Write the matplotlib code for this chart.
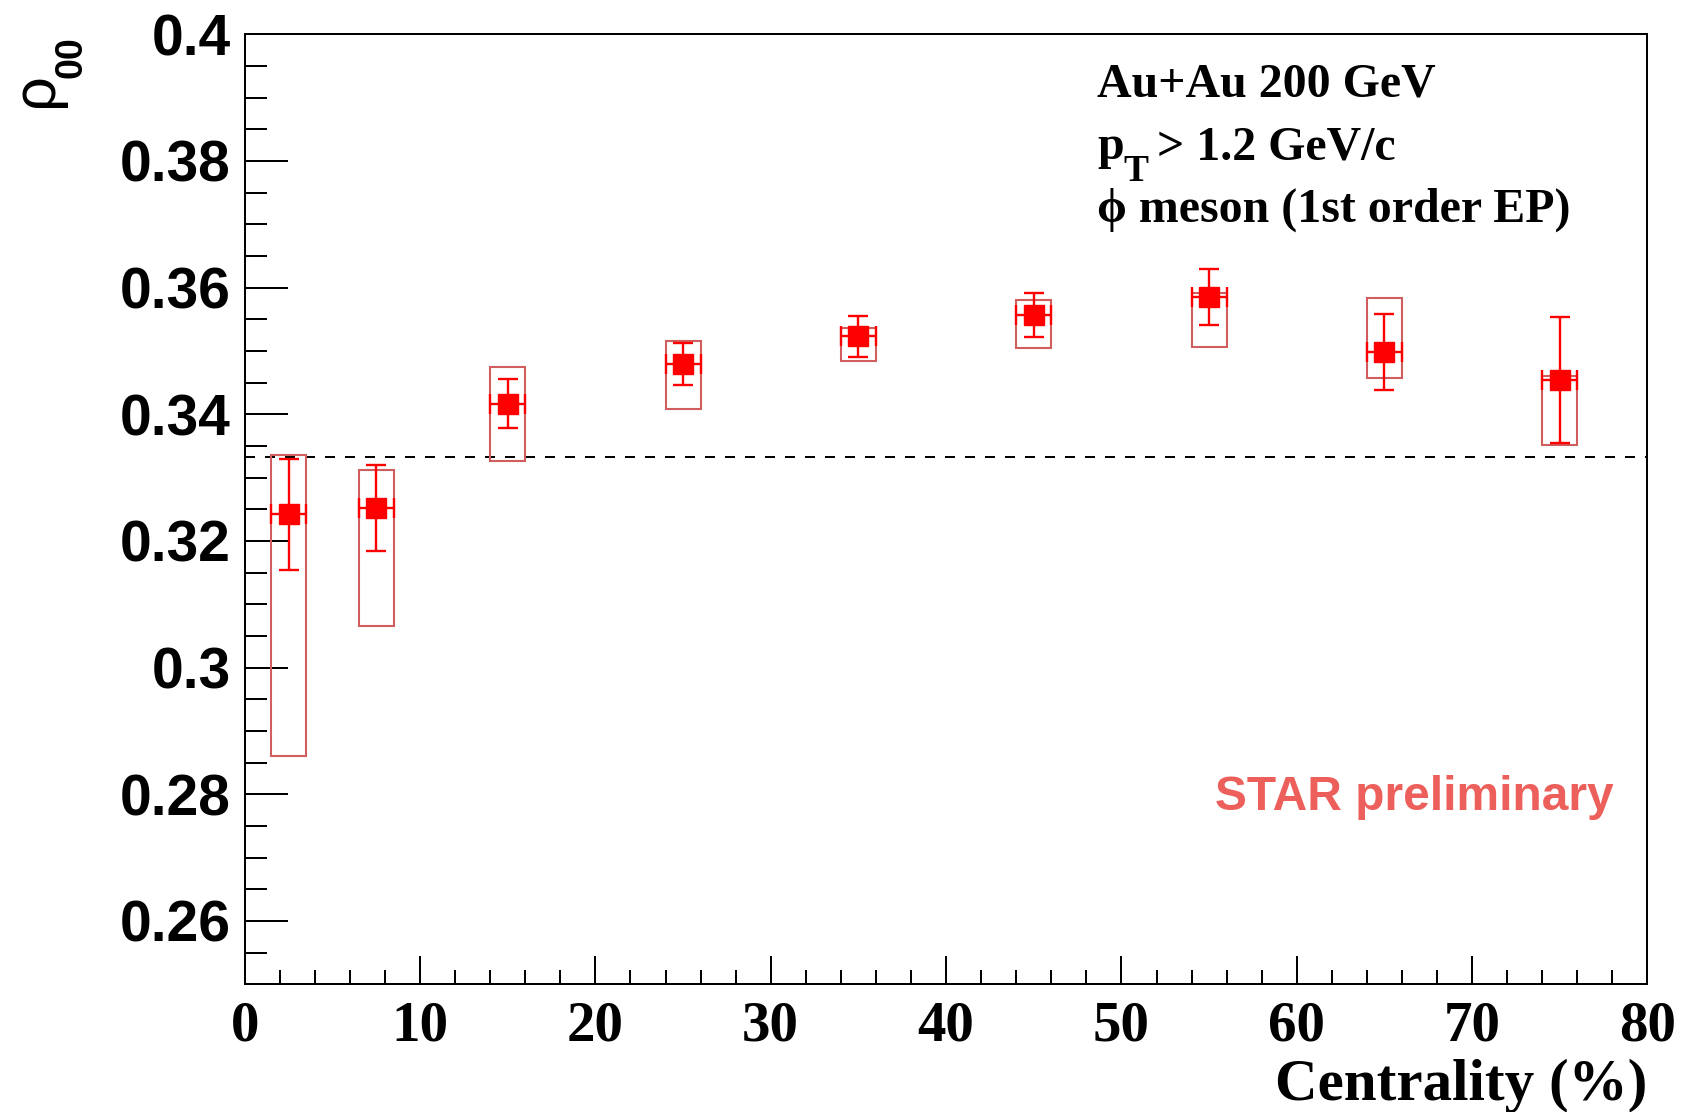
import matplotlib
matplotlib.use("Agg")
import matplotlib.pyplot as plt
from matplotlib.patches import Rectangle
from matplotlib.ticker import MultipleLocator, FixedLocator

# ---- data ----
centrality = [2.5, 7.5, 15, 25, 35, 45, 55, 65, 75]
rho00 = [0.3242, 0.3252, 0.3417, 0.3480, 0.3523, 0.3557, 0.3585, 0.3499, 0.3454]
stat_err = [0.0088, 0.0068, 0.0038, 0.0033, 0.0033, 0.0035, 0.0044, 0.0060, 0.0099]
sys_low = [0.2860, 0.3065, 0.3327, 0.3409, 0.3484, 0.3505, 0.3507, 0.3458, 0.3352]
sys_high = [0.3335, 0.3312, 0.3474, 0.3516, 0.3537, 0.3580, 0.3592, 0.3583, 0.3460]
x_err = 1.0
reference_value = 1.0 / 3.0
x_ticks = [0, 10, 20, 30, 40, 50, 60, 70, 80]
y_ticks = [0.26, 0.28, 0.30, 0.32, 0.34, 0.36, 0.38, 0.40]
y_tick_labels = ["0.26", "0.28", "0.3", "0.32", "0.34", "0.36", "0.38", "0.4"]

W, H = 1683, 1112
fig = plt.figure(figsize=(W / 100, H / 100), dpi=100)
L, R, T, B = 244.7, 1647.5, 34.3, 984.3
ax = fig.add_axes([L / W, 1 - B / H, (R - L) / W, (B - T) / H])

def fx(px):
    return px / W

def fy(py):
    return 1 - py / H

# systematic boxes
for xc, lo, hi in zip(centrality, sys_low, sys_high):
    ax.add_patch(Rectangle((xc - x_err, lo), 2 * x_err, hi - lo, fill=False,
                           edgecolor='#d05e5e', linewidth=1.5, zorder=2))

# reference line
ax.axhline(reference_value, color='black', lw=1.44, dashes=(5, 5), zorder=1)

# data points with stat errors
ax.errorbar(centrality, rho00, yerr=stat_err, xerr=x_err, fmt='s', color='#ff0000',
            markersize=14, elinewidth=1.7, capsize=7, capthick=1.7, zorder=3)

ax.set_xlim(0, 80)
ax.set_ylim(0.25, 0.40)

ax.xaxis.set_major_locator(FixedLocator(x_ticks))
ax.xaxis.set_minor_locator(MultipleLocator(2))
ax.yaxis.set_major_locator(FixedLocator(y_ticks))
ax.yaxis.set_minor_locator(MultipleLocator(0.005))
ax.set_yticklabels(y_tick_labels)

ax.tick_params(axis='y', which='major', direction='in', length=31, width=1.44,
               pad=10, left=True, right=False)
ax.tick_params(axis='y', which='minor', direction='in', length=15.8, width=1.44,
               left=True, right=False)
ax.tick_params(axis='x', which='major', direction='in', length=20, width=1.44,
               pad=12, bottom=True, top=False)
ax.tick_params(axis='x', which='minor', direction='in', length=10, width=1.44,
               bottom=True, top=False)

for lab in ax.get_yticklabels():
    lab.set_fontfamily('Liberation Sans')
    lab.set_fontweight('bold')
    lab.set_fontsize(41)
for lab in ax.get_xticklabels():
    lab.set_fontfamily('Liberation Serif')
    lab.set_fontweight('bold')
    lab.set_fontsize(41)

for sp in ax.spines.values():
    sp.set_linewidth(1.44)

# x axis title
fig.text(fx(1647.5), fy(1100), "Centrality (%)", ha='right', va='baseline',
         fontfamily='Liberation Serif', fontweight='bold', fontsize=42.5)

# y axis title: rho_00
fig.text(fx(52), fy(107), "\u03c1", rotation=90, rotation_mode='anchor',
         ha='left', va='baseline', fontfamily='Liberation Sans', fontsize=44)
fig.text(fx(82), fy(78), "00", rotation=90, rotation_mode='anchor',
         ha='left', va='baseline', fontfamily='Liberation Sans', fontweight='bold',
         fontsize=27)

# annotation block
serif = dict(fontfamily=['Liberation Serif', 'DejaVu Serif'], fontweight='bold')
fig.text(fx(1097), fy(96.6), "Au+Au 200 GeV", ha='left', va='baseline',
         fontsize=34.5, **serif)
fig.text(fx(1097), fy(159), "p", ha='left', va='baseline', fontsize=34.5, **serif)
fig.text(fx(1123), fy(181), "T", ha='left', va='baseline', fontsize=27, **serif)
fig.text(fx(1157), fy(159), "> 1.2 GeV/c", ha='left', va='baseline',
         fontsize=34.5, **serif)
fig.text(fx(1097), fy(222), "\u03d5 meson (1st order EP)", ha='left', va='baseline',
         fontsize=34.5, **serif)

fig.text(fx(1215), fy(810), "STAR preliminary", ha='left', va='baseline',
         fontfamily='Liberation Sans', fontweight='bold', fontsize=34.5, color='#ec5f5a')

fig.savefig("out.png", dpi=100)
